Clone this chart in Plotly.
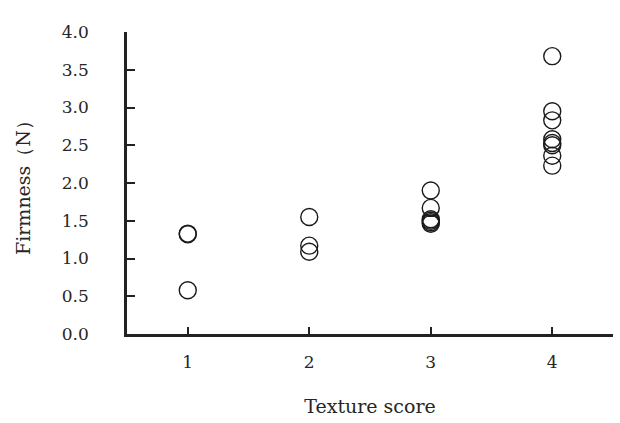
import plotly.graph_objects as go

# Data
texture_score = [1, 1, 1,
                 2, 2, 2,
                 3, 3, 3, 3, 3, 3,
                 4, 4, 4, 4, 4, 4, 4, 4]
firmness = [1.33, 1.32, 0.58,
            1.55, 1.17, 1.09,
            1.90, 1.67, 1.52, 1.50, 1.48, 1.46,
            3.68, 2.95, 2.83, 2.58, 2.53, 2.50, 2.36, 2.23]

x_ticks = [1, 2, 3, 4, 4.5]
x_ticktext = ["1", "2", "3", "4", ""]
y_ticks = [0.0, 0.5, 1.0, 1.5, 2.0, 2.5, 3.0, 3.5, 4.0]
y_ticktext = ["0.0", "0.5", "1.0", "1.5", "2.0", "2.5", "3.0", "3.5", "4.0"]

AX = "#222222"
TXT = "#262626"
FONT = "DejaVu Serif"

fig = go.Figure()
fig.add_trace(go.Scatter(
    x=texture_score, y=firmness, mode="markers",
    marker=dict(symbol="circle-open", size=17, color="#1a1a1a",
                line=dict(width=1.4, color="#1a1a1a")),
    showlegend=False, hoverinfo="x+y",
))

fig.update_layout(
    width=620, height=423,
    margin=dict(l=127, r=7, t=32, b=89),
    paper_bgcolor="white", plot_bgcolor="white",
    font=dict(family=FONT, color=TXT, size=17),
    xaxis=dict(
        range=[0.5, 4.5], tickvals=x_ticks, ticktext=x_ticktext,
        showline=True, linecolor=AX, linewidth=2.5,
        ticks="inside", ticklen=7, tickwidth=2, tickcolor=AX,
        showgrid=False, zeroline=False,
        ticklabelstandoff=11,
        tickfont=dict(family=FONT, size=17, color=TXT),
        title=dict(text="Texture score", standoff=29,
                   font=dict(family=FONT, size=19, color=TXT)),
    ),
    yaxis=dict(
        range=[0, 4], tickvals=y_ticks, ticktext=y_ticktext,
        showline=True, linecolor=AX, linewidth=2.5,
        ticks="inside", ticklen=8, tickwidth=2, tickcolor=AX,
        showgrid=False, zeroline=False,
        ticklabelstandoff=32,
        tickfont=dict(family=FONT, size=17, color=TXT),
        title=dict(text="Firmness（N）", standoff=27,
                   font=dict(family=FONT, size=19, color=TXT)),
    ),
)

fig.write_html("out.html")
